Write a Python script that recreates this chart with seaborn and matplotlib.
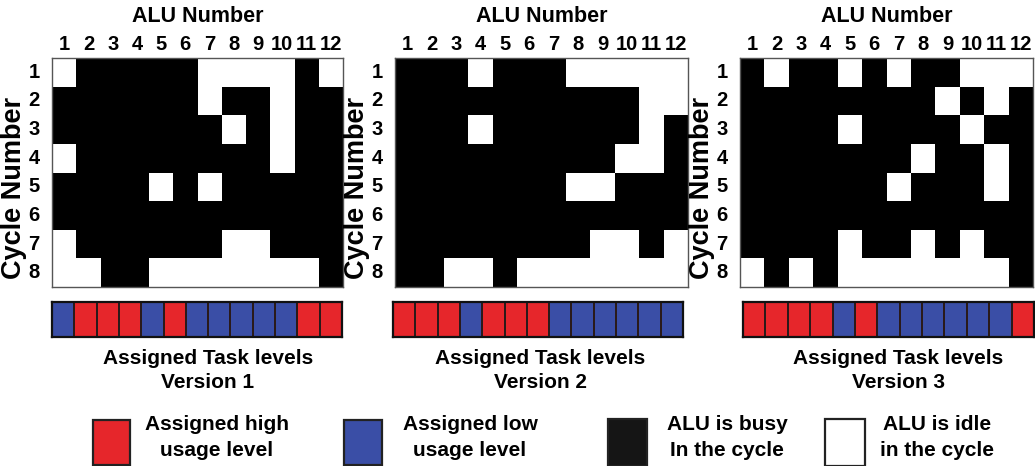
import numpy as np
import pandas as pd
import matplotlib
matplotlib.use("Agg")
import matplotlib.pyplot as plt
from matplotlib.colors import ListedColormap
from matplotlib.patches import Rectangle
import seaborn as sns

alu_numbers = list(range(1, 13))
cycle_numbers = list(range(1, 9))

# 1 = ALU busy in the cycle, 0 = ALU idle
busy_v1 = [
    [0, 1, 1, 1, 1, 1, 0, 0, 0, 0, 1, 0],
    [1, 1, 1, 1, 1, 1, 0, 1, 1, 0, 1, 1],
    [1, 1, 1, 1, 1, 1, 1, 0, 1, 0, 1, 1],
    [0, 1, 1, 1, 1, 1, 1, 1, 1, 0, 1, 1],
    [1, 1, 1, 1, 0, 1, 0, 1, 1, 1, 1, 1],
    [1, 1, 1, 1, 1, 1, 1, 1, 1, 1, 1, 1],
    [0, 1, 1, 1, 1, 1, 1, 0, 0, 1, 1, 1],
    [0, 0, 1, 1, 0, 0, 0, 0, 0, 0, 0, 1],
]
busy_v2 = [
    [1, 1, 1, 0, 1, 1, 1, 0, 0, 0, 0, 0],
    [1, 1, 1, 1, 1, 1, 1, 1, 1, 1, 0, 0],
    [1, 1, 1, 0, 1, 1, 1, 1, 1, 1, 0, 1],
    [1, 1, 1, 1, 1, 1, 1, 1, 1, 0, 0, 1],
    [1, 1, 1, 1, 1, 1, 1, 0, 0, 1, 1, 1],
    [1, 1, 1, 1, 1, 1, 1, 1, 1, 1, 1, 1],
    [1, 1, 1, 1, 1, 1, 1, 1, 0, 0, 1, 0],
    [1, 1, 0, 0, 1, 0, 0, 0, 0, 0, 0, 0],
]
busy_v3 = [
    [1, 0, 1, 1, 0, 1, 0, 1, 1, 0, 0, 0],
    [1, 1, 1, 1, 1, 1, 1, 1, 0, 1, 0, 1],
    [1, 1, 1, 1, 0, 1, 1, 1, 1, 0, 1, 1],
    [1, 1, 1, 1, 1, 1, 1, 0, 1, 1, 0, 1],
    [1, 1, 1, 1, 1, 1, 0, 1, 1, 1, 0, 1],
    [1, 1, 1, 1, 1, 1, 1, 1, 1, 1, 1, 1],
    [1, 1, 1, 1, 0, 1, 1, 0, 1, 0, 1, 1],
    [0, 1, 0, 1, 0, 0, 0, 0, 0, 0, 0, 1],
]

# Assigned task levels: H = high usage, L = low usage
levels_v1 = ["L", "H", "H", "H", "L", "H", "L", "L", "L", "L", "L", "H", "H"]
levels_v2 = ["H", "H", "H", "L", "H", "H", "H", "L", "L", "L", "L", "L", "L"]
levels_v3 = ["H", "H", "H", "H", "L", "H", "L", "L", "L", "L", "L", "L", "H"]

version_names = ["Version 1", "Version 2", "Version 3"]
legend_labels = ["Assigned high\nusage level", "Assigned low\nusage level",
                 "ALU is busy\nIn the cycle", "ALU is idle\nin the cycle"]

RED = "#e6262b"
BLUE = "#3a4ea6"

sns.set_style("white")
plt.rcParams["font.family"] = ["Liberation Sans", "DejaVu Sans"]
plt.rcParams["font.weight"] = "bold"

W, H = 1035, 466
fig = plt.figure(figsize=(W / 100, H / 100), dpi=100)


def px_axes(x0, y0, x1, y1):
    return fig.add_axes([x0 / W, 1 - y1 / H, (x1 - x0) / W, (y1 - y0) / H])


grid_boxes = [(52, 58, 343, 287), (395, 58, 688, 287), (740, 58, 1033, 287)]
bar_boxes = [(52, 302, 342, 337), (393, 302, 683, 337), (743, 302, 1034, 337)]
caption_x = [208, 540, 898]
ylabel_x = [14, 357, 702]

busy_sets = [busy_v1, busy_v2, busy_v3]
level_sets = [levels_v1, levels_v2, levels_v3]

for i in range(3):
    ax = px_axes(*grid_boxes[i])
    df = pd.DataFrame(busy_sets[i], index=cycle_numbers, columns=alu_numbers)
    sns.heatmap(df, ax=ax, cmap=ListedColormap(["white", "black"]), vmin=0, vmax=1,
                cbar=False, xticklabels=alu_numbers, yticklabels=cycle_numbers)
    ax.xaxis.tick_top()
    ax.tick_params(axis="both", direction="in", length=3, color="#888888",
                   labelsize=14.5, labelcolor="black")
    ax.tick_params(axis="x", pad=3)
    ax.tick_params(axis="y", pad=9)
    for lab in ax.get_xticklabels() + ax.get_yticklabels():
        lab.set_fontweight("bold")
        lab.set_rotation(0)
    for sp in ax.spines.values():
        sp.set_visible(True)
        sp.set_color("#555555")
        sp.set_linewidth(1.0)
    ax.set_xlabel("")
    ax.set_ylabel("")
    cx = (grid_boxes[i][0] + grid_boxes[i][2]) / 2
    fig.text(cx / W, 1 - 16 / H, "ALU Number", ha="center", va="center",
             fontsize=15.5, fontweight="bold", color="black")
    fig.text(ylabel_x[i] / W, 1 - 188 / H, "Cycle Number", ha="center", va="center",
             rotation=90, fontsize=19.5, fontweight="bold", color="black")

    # task level strip
    bx = px_axes(*bar_boxes[i])
    codes = [[1 if v == "H" else 0 for v in level_sets[i]]]
    sns.heatmap(pd.DataFrame(codes), ax=bx, cmap=ListedColormap([BLUE, RED]),
                vmin=0, vmax=1, cbar=False, linewidths=1.2, linecolor="#2a1a1a",
                xticklabels=False, yticklabels=False)
    for sp in bx.spines.values():
        sp.set_visible(True)
        sp.set_color("#111111")
        sp.set_linewidth(1.6)

    fig.text(caption_x[i] / W, 1 - 358 / H, "Assigned Task levels", ha="center",
             va="center", fontsize=15, fontweight="bold", color="black")
    fig.text(caption_x[i] / W, 1 - 382 / H, version_names[i], ha="center",
             va="center", fontsize=15, fontweight="bold", color="black")

# legend
legend_boxes = [(93, 420, 130, 465), (344, 420, 382, 465),
                (608, 419, 647, 466), (825, 419, 865, 466)]
legend_colors = [RED, BLUE, "#151515", "white"]
legend_text_x = [217, 470, 727, 937]
for (x0, y0, x1, y1), col, lab, tx in zip(legend_boxes, legend_colors,
                                          legend_labels, legend_text_x):
    fig.patches.append(Rectangle((x0 / W, 1 - y1 / H), (x1 - x0) / W, (y1 - y0) / H,
                                 transform=fig.transFigure, facecolor=col,
                                 edgecolor="#222222", linewidth=1.6))
    l1, l2 = lab.split("\n")
    fig.text(tx / W, 1 - 425 / H, l1, ha="center", va="center", fontsize=15,
             fontweight="bold", color="black")
    fig.text(tx / W, 1 - 450 / H, l2, ha="center", va="center", fontsize=15,
             fontweight="bold", color="black")

fig.savefig("out.png", dpi=100)
